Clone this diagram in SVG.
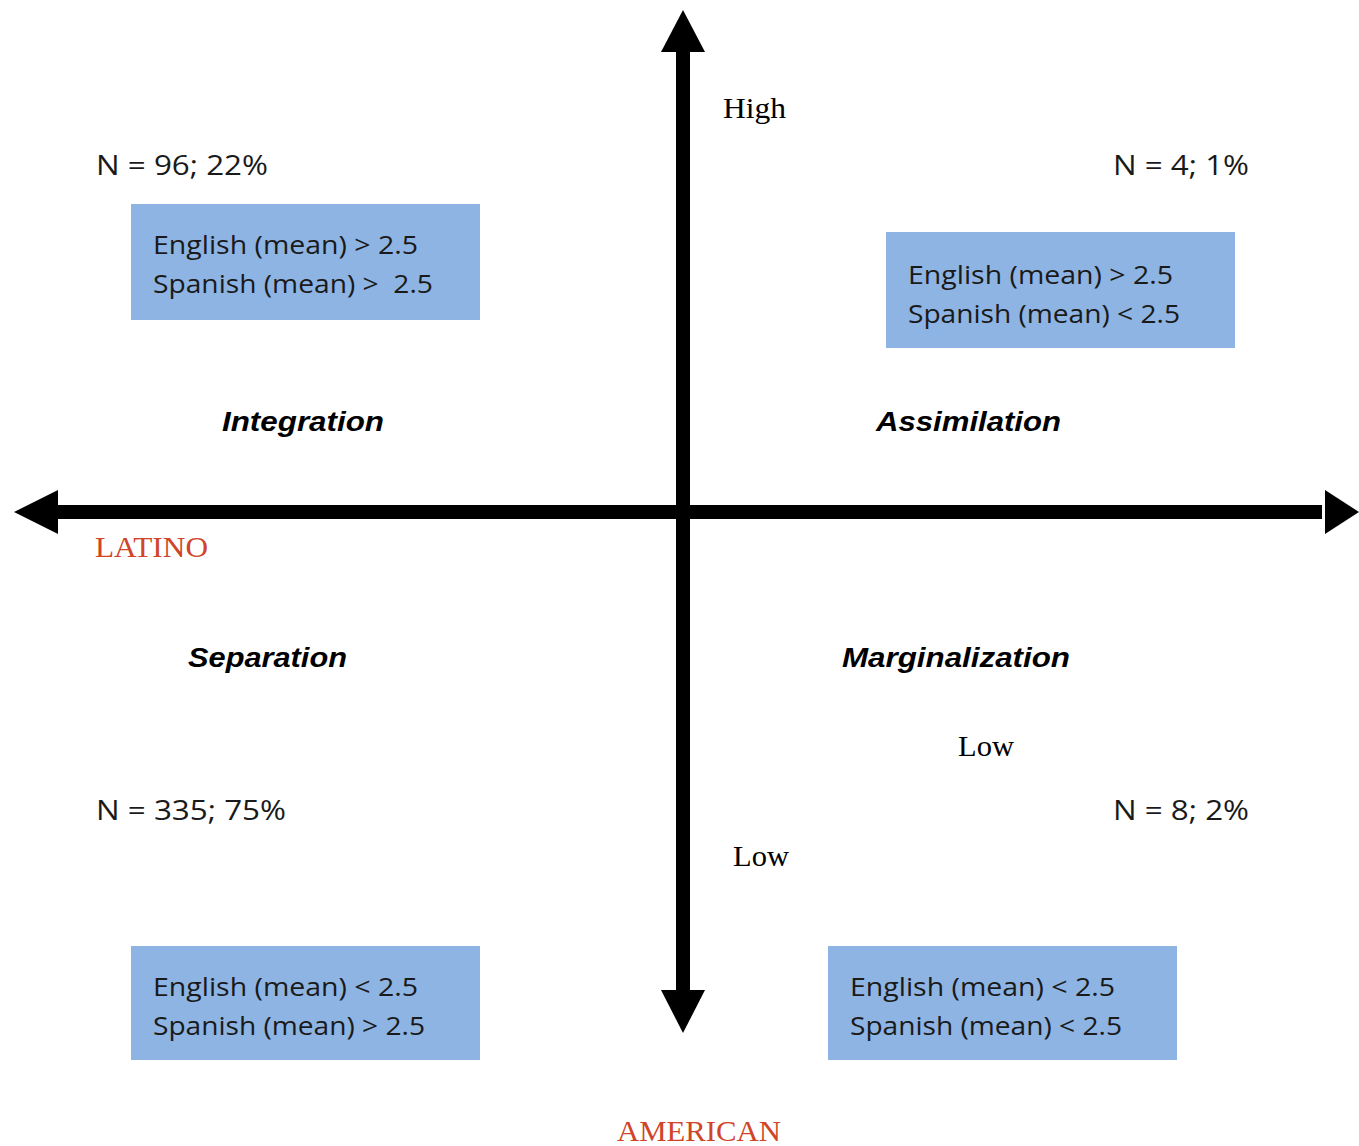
<svg xmlns="http://www.w3.org/2000/svg" width="1359" height="1146" viewBox="0 0 1359 1146">
<style>
.box{fill:#8EB4E3;}
.bt{font-family:"Open Sans","Noto Sans",sans-serif;font-size:25px;fill:#1a1a1a;}
.n{font-family:"Open Sans","Noto Sans",sans-serif;font-size:28px;fill:#1a1a1a;}
.q{font-family:"Liberation Sans",Arial,sans-serif;font-size:28px;font-weight:bold;font-style:italic;fill:#000;}
.s{font-family:"Liberation Serif","Times New Roman",serif;font-size:29px;fill:#000;}
.r{font-family:"Liberation Serif","Times New Roman",serif;font-size:29px;fill:#D0452A;}
.ax{stroke:#000;stroke-width:14;fill:none;}
.hd{fill:#000;}
</style>
<rect width="1359" height="1146" fill="#fff"/>
<g id="connectors">
<line class="ax" x1="683" y1="48" x2="683" y2="995"/>
<polygon class="hd" points="683,10 705,52 661,52"/>
<polygon class="hd" points="683,1033 705,990 661,990"/>
<line class="ax" x1="54" y1="512" x2="1322" y2="512"/>
<polygon class="hd" points="14,512 58,490 58,534"/>
<polygon class="hd" points="1359,512 1325,490 1325,534"/>
</g>
<g id="axis-labels">
<text class="s" x="723" y="118" textLength="63" lengthAdjust="spacingAndGlyphs">High</text>
<text class="s" x="958" y="756" textLength="56" lengthAdjust="spacingAndGlyphs">Low</text>
<text class="s" x="733" y="866" textLength="56" lengthAdjust="spacingAndGlyphs">Low</text>
<text class="r" x="95" y="557" textLength="113" lengthAdjust="spacingAndGlyphs">LATINO</text>
<text class="r" x="617" y="1141" textLength="164" lengthAdjust="spacingAndGlyphs">AMERICAN</text>
</g>
<g id="integration">
<text class="n" x="96" y="175" textLength="172" lengthAdjust="spacingAndGlyphs">N = 96; 22%</text>
<rect class="box" x="131" y="204" width="349" height="116"/>
<text class="bt" x="153" y="254" textLength="265" lengthAdjust="spacingAndGlyphs">English (mean) &gt; 2.5</text>
<text class="bt" x="153" y="293" textLength="280" lengthAdjust="spacingAndGlyphs">Spanish (mean) &gt;&#160; 2.5</text>
<text class="q" x="222" y="431" textLength="162" lengthAdjust="spacingAndGlyphs">Integration</text>
</g>
<g id="assimilation">
<text class="n" x="1113" y="175" textLength="136" lengthAdjust="spacingAndGlyphs">N = 4; 1%</text>
<rect class="box" x="886" y="232" width="349" height="116"/>
<text class="bt" x="908" y="284" textLength="265" lengthAdjust="spacingAndGlyphs">English (mean) &gt; 2.5</text>
<text class="bt" x="908" y="323" textLength="272" lengthAdjust="spacingAndGlyphs">Spanish (mean) &lt; 2.5</text>
<text class="q" x="876" y="431" textLength="185" lengthAdjust="spacingAndGlyphs">Assimilation</text>
</g>
<g id="separation">
<text class="q" x="188" y="667" textLength="159" lengthAdjust="spacingAndGlyphs">Separation</text>
<text class="n" x="96" y="820" textLength="190" lengthAdjust="spacingAndGlyphs">N = 335; 75%</text>
<rect class="box" x="131" y="946" width="349" height="114"/>
<text class="bt" x="153" y="996" textLength="265" lengthAdjust="spacingAndGlyphs">English (mean) &lt; 2.5</text>
<text class="bt" x="153" y="1035" textLength="272" lengthAdjust="spacingAndGlyphs">Spanish (mean) &gt; 2.5</text>
</g>
<g id="marginalization">
<text class="q" x="842" y="667" textLength="228" lengthAdjust="spacingAndGlyphs">Marginalization</text>
<text class="n" x="1113" y="820" textLength="136" lengthAdjust="spacingAndGlyphs">N = 8; 2%</text>
<rect class="box" x="828" y="946" width="349" height="114"/>
<text class="bt" x="850" y="996" textLength="265" lengthAdjust="spacingAndGlyphs">English (mean) &lt; 2.5</text>
<text class="bt" x="850" y="1035" textLength="272" lengthAdjust="spacingAndGlyphs">Spanish (mean) &lt; 2.5</text>
</g>
</svg>
